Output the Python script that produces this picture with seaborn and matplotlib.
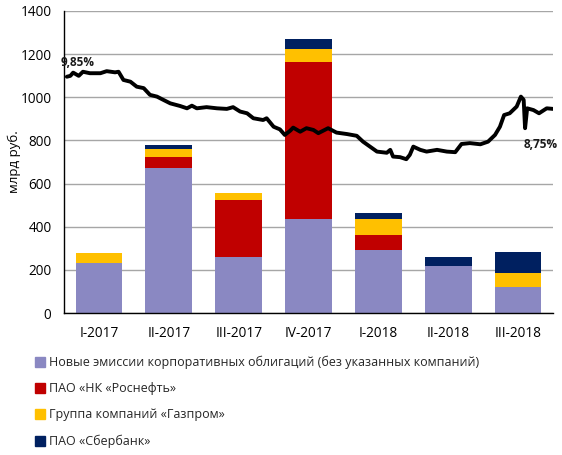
import numpy as np
import pandas as pd
import matplotlib
matplotlib.use("Agg")
import matplotlib.pyplot as plt
import seaborn as sns
from matplotlib.lines import Line2D

categories = ["I-2017", "II-2017", "III-2017", "IV-2017", "I-2018", "II-2018", "III-2018"]
other = [233, 671, 260, 436, 293, 219, 122]
rosneft = [0, 51, 265, 726, 70, 0, 0]
gazprom = [47, 40, 30, 63, 74, 0, 63]
sber = [0, 17, 0, 44, 27, 41, 99]

series_names = [
    "Новые эмиссии корпоративных облигаций (без указанных компаний)",
    "ПАО «НК «Роснефть»",
    "Группа компаний «Газпром»",
    "ПАО «Сбербанк»",
]
series_colors = ["#8A88C2", "#C00000", "#FFC000", "#002060"]

# yield line: time in quarters since 1 Jan 2017, yield in %
yield_t = [0.04, 0.09, 0.13, 0.21, 0.27, 0.37, 0.52, 0.61, 0.73, 0.78,
           0.85, 0.95, 1.04, 1.14, 1.23, 1.33, 1.42, 1.52, 1.66, 1.76,
           1.83, 1.90, 2.04, 2.19, 2.33, 2.42, 2.52, 2.62, 2.71, 2.85,
           2.90, 3.00, 3.09, 3.16, 3.24, 3.28, 3.38, 3.47, 3.57, 3.64,
           3.78, 3.90, 4.05, 4.19, 4.28, 4.38, 4.48, 4.62, 4.67, 4.71,
           4.81, 4.90, 4.95, 5.00, 5.10, 5.19, 5.34, 5.48, 5.60, 5.69,
           5.81, 5.96, 6.07, 6.17, 6.24, 6.30, 6.38, 6.48, 6.54, 6.58,
           6.60, 6.63, 6.72, 6.80, 6.91, 7.00]
yield_pct = [9.85, 9.88, 9.99, 9.88, 10.02, 9.97, 9.97, 10.04, 10.00, 10.02,
             9.74, 9.68, 9.51, 9.46, 9.23, 9.17, 9.06, 8.94, 8.85, 8.77,
             8.86, 8.77, 8.81, 8.77, 8.75, 8.81, 8.66, 8.60, 8.43, 8.37,
             8.43, 8.14, 8.05, 7.86, 8.01, 8.11, 7.97, 8.09, 8.03, 7.92,
             8.09, 7.94, 7.89, 7.83, 7.63, 7.46, 7.29, 7.25, 7.35, 7.12,
             7.10, 7.03, 7.18, 7.46, 7.35, 7.29, 7.35, 7.29, 7.27, 7.55,
             7.58, 7.54, 7.63, 7.86, 8.14, 8.54, 8.60, 8.83, 9.17, 9.06,
             8.09, 8.77, 8.71, 8.60, 8.77, 8.75]

sns.set_theme(style="white")
plt.rcParams["font.family"] = ["Open Sans", "DejaVu Sans"]

fig = plt.figure(figsize=(5.62, 4.55), dpi=100)
ax = fig.add_axes([0.114, 0.312, 0.870, 0.664])

stack = [other, rosneft, gazprom, sber]
cum = np.cumsum(np.array(stack, dtype=float), axis=0)
df = pd.DataFrame({"cat": categories})
for i in range(3, -1, -1):
    df["v"] = cum[i]
    sns.barplot(data=df, x="cat", y="v", color=series_colors[i], saturation=1,
                width=0.67, ax=ax, order=categories, linewidth=0, edgecolor="none")

ax.set_xlim(-0.5, 6.5)
ax.set_ylim(0, 1400)
ax.set_yticks(np.arange(0, 1401, 200))
ax.set_axisbelow(True)
ax.yaxis.grid(True, color="#A6A6A6", linewidth=1.0)
ax.xaxis.grid(False)
for s in ["top", "right"]:
    ax.spines[s].set_visible(False)
for s in ["left", "bottom"]:
    ax.spines[s].set_color("black")
    ax.spines[s].set_linewidth(1.0)
ax.tick_params(axis="both", length=0, labelsize=9.8, colors="black", pad=9)
ax.set_xlabel("")
ax.set_ylabel("млрд руб.", fontsize=9.5, color="black")
ax.yaxis.set_label_coords(-0.088, 0.5)

ax2 = ax.twinx()
ax2.set_ylim(1.77, 12.10)
lx = np.array(yield_t) - 0.5
sns.lineplot(x=lx, y=yield_pct, ax=ax2, color="black", linewidth=2.8,
             sort=False, estimator=None)
ax2.set_xlim(-0.5, 6.5)
ax2.set_yticks([])
for s in ax2.spines.values():
    s.set_visible(False)
ax2.text(-0.30, 10.32, "9,85%", ha="center", va="center", fontsize=8.5,
         fontweight="bold", color="#1a1a1a")
ax2.text(6.33, 7.52, "8,75%", ha="center", va="center", fontsize=8.5,
         fontweight="bold", color="#1a1a1a")

handles = [Line2D([0], [0], marker="s", linestyle="none", markersize=7.5,
                  markerfacecolor=c, markeredgecolor=c) for c in series_colors]
fig.legend(handles, series_names, loc="upper left", bbox_to_anchor=(0.062, 0.218),
           frameon=False, fontsize=9.0, handlelength=0.85, handletextpad=0.3,
           labelspacing=1.05, borderpad=0, borderaxespad=0)

fig.savefig("out.png", dpi=100)
